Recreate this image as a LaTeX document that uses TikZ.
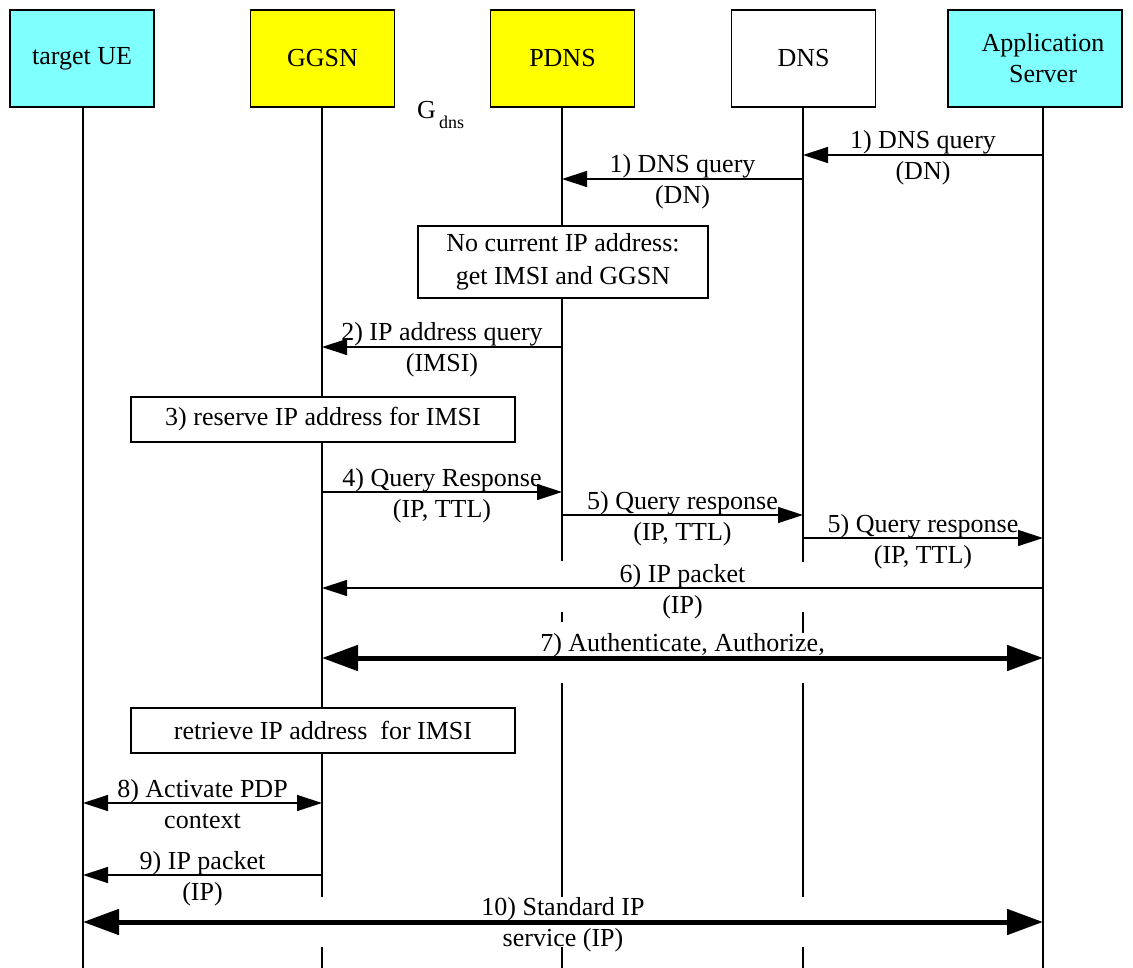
\documentclass[tikz,border=0pt]{standalone}
\usepackage{fontspec}
\setmainfont{Liberation Serif}
\usetikzlibrary{arrows.meta}
\definecolor{cyanbox}{RGB}{128,255,255}
\definecolor{yellowbox}{RGB}{255,255,0}
\begin{document}
\begin{tikzpicture}[x=1pt,y=-1pt,
  font=\fontsize{26}{31}\selectfont,
  actor/.style={draw, line width=1.3pt, minimum width=144pt, minimum height=97pt, inner sep=0pt, align=center},
  life/.style={line width=1.3pt},
  msg/.style={line width=1.3pt, -{Triangle[length=25pt,width=16pt]}},
  msgboth/.style={line width=1.3pt, {Triangle[length=25pt,width=16pt]}-{Triangle[length=25pt,width=16pt]}},
  bigboth/.style={line width=5pt, {Triangle[length=36pt,width=25pt]}-{Triangle[length=36pt,width=25pt]}},
  note/.style={draw, fill=white, line width=1.3pt, align=center, inner sep=0pt, font=\fontsize{26}{33}\selectfont},
  over/.style={anchor=base, yshift=6pt, inner sep=0pt},
  under/.style={anchor=base, yshift=-25pt, inner sep=0pt},
  overbig/.style={anchor=base, yshift=7pt, inner sep=0pt},
  underbig/.style={anchor=base, yshift=-24pt, inner sep=0pt}]
\useasboundingbox (0,0) rectangle (1133,968);

% entity boxes
\node[actor, fill=cyanbox] (ue) at (82,58.5) {target UE};
\node[actor, fill=yellowbox] (ggsn) at (322.5,58.5) {GGSN};
\node[actor, fill=yellowbox] (pdns) at (562.5,58.5) {PDNS};
\node[actor] (dns) at (803.5,58.5) {DNS};
\node[actor, fill=cyanbox, minimum width=174pt] (as) at (1035,58.5) {};
\node[align=center, inner sep=0pt] (astext) at (1043,58.5) {Application\\Server};

% interface label
\node[anchor=base west, inner sep=0pt] (gdns) at (417,119) {G};
\node[anchor=base west, inner sep=0pt, font=\fontsize{18}{20}\selectfont] (gdnssub) at (439,129) {dns};

% lifeline tops
\coordinate (ueL) at (83,107);
\coordinate (ggsnL) at (322,107);
\coordinate (pdnsL) at (562,107);
\coordinate (dnsL) at (803,107);
\coordinate (asL) at (1043,107);

% lifelines
\draw[life] (ueL) -- (ueL |- 0,968);
\draw[life] (asL) -- (asL |- 0,968);
\draw[life] (ggsnL) -- (ggsnL |- 0,897) (ggsnL |- 0,947) -- (ggsnL |- 0,968);
\draw[life] (pdnsL) -- (pdnsL |- 0,561) (pdnsL |- 0,612) -- (pdnsL |- 0,622)
            (pdnsL |- 0,683) -- (pdnsL |- 0,897) (pdnsL |- 0,947) -- (pdnsL |- 0,968);
\draw[life] (dnsL) -- (dnsL |- 0,562) (dnsL |- 0,612) -- (dnsL |- 0,633)
            (dnsL |- 0,683) -- (dnsL |- 0,897) (dnsL |- 0,947) -- (dnsL |- 0,968);

% 1) DNS queries
\draw[msg] (asL |- 0,155) -- node[pos=.5, over] (m1a) {1) DNS query} node[pos=.5, under] (m1b) {(DN)} (dnsL |- 0,155);
\draw[msg] (dnsL |- 0,179) -- node[pos=.5, over] (m1c) {1) DNS query} node[pos=.5, under] (m1d) {(DN)} (pdnsL |- 0,179);

% PDNS lookup
\node[note, minimum width=290pt, minimum height=72pt] (nocur) at (563,262) {No current IP address:\\get IMSI and GGSN};

% 2) IP address query
\draw[msg] (pdnsL |- 0,347) -- node[pos=.5, over] (m2a) {2) IP address query} node[pos=.5, under] (m2b) {(IMSI)} (ggsnL |- 0,347);

% 3) reserve
\node[note, minimum width=384pt, minimum height=45pt] (reserve) at (323,419.5) {3) reserve IP address for IMSI};

% 4) and 5) responses
\draw[msg] (ggsnL |- 0,492) -- node[pos=.5, over] (m4a) {4) Query Response} node[pos=.5, under] (m4b) {(IP, TTL)} (pdnsL |- 0,492);
\draw[msg] (pdnsL |- 0,515) -- node[pos=.5, over] (m5a) {5) Query response} node[pos=.5, under] (m5b) {(IP, TTL)} (dnsL |- 0,515);
\draw[msg] (dnsL |- 0,538) -- node[pos=.5, over] (m5c) {5) Query response} node[pos=.5, under] (m5d) {(IP, TTL)} (asL |- 0,538);

% 6) IP packet
\draw[msg] (asL |- 0,588) -- node[pos=.5, over] (m6a) {6) IP packet} node[pos=.5, under] (m6b) {(IP)} (ggsnL |- 0,588);

% 7) authentication
\draw[bigboth] (ggsnL |- 0,658) -- node[pos=.5, overbig] (m7) {7) Authenticate, Authorize,} (asL |- 0,658);

% retrieve
\node[note, minimum width=384pt, minimum height=45pt] (retrieve) at (323,730.5) {retrieve IP address \ for IMSI};

% 8) PDP context
\draw[msgboth] (ueL |- 0,803) -- node[pos=.5, over] (m8a) {8) Activate PDP} node[pos=.5, under] (m8b) {context} (ggsnL |- 0,803);

% 9) IP packet
\draw[msg] (ggsnL |- 0,875) -- node[pos=.5, over] (m9a) {9) IP packet} node[pos=.5, under] (m9b) {(IP)} (ueL |- 0,875);

% 10) standard service
\draw[bigboth] (ueL |- 0,922) -- node[pos=.5, overbig] (m10a) {10) Standard IP} node[pos=.5, underbig] (m10b) {service (IP)} (asL |- 0,922);
\end{tikzpicture}
\end{document}
